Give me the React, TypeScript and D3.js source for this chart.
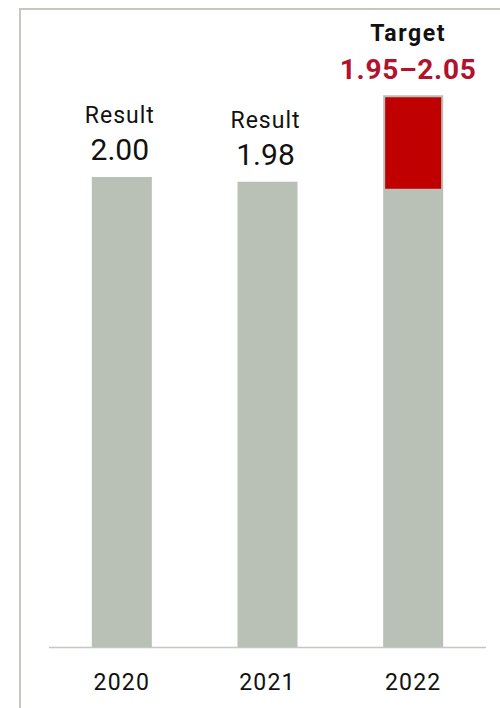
import * as d3 from "d3";

const years = ["2020", "2021", "2022"];
const results = [2.0, 1.98, null];
const resultLabels = ["2.00", "1.98", null];
const targetRange = [1.95, 2.05];
const targetLabel = "1.95–2.05";

const W = 500;
const H = 708;
const margin = { top: 177, right: 14, bottom: 60.5, left: 49 };
const bandPx = 91.5; // the target range is drawn stretched, not to scale

const grey = "#b9c1b6";
const lineGrey = "#c3c8c0";
const font = "Roboto, 'DejaVu Sans', sans-serif";

export default function App() {
  const x = d3
    .scaleBand()
    .domain(years)
    .range([margin.left, W - margin.right])
    .paddingInner(0.588)
    .paddingOuter(0.294);

  const y = d3
    .scaleLinear()
    .domain([0, 2])
    .range([H - margin.bottom, margin.top]);

  const yT = d3
    .scaleLinear()
    .domain(targetRange)
    .range([y(targetRange[0]), y(targetRange[0]) - bandPx]);

  const bw = x.bandwidth();

  return (
    <svg
      width={W}
      height={H}
      style={{ position: "absolute", left: 0, top: 0, fontFamily: font }}
    >
      <rect width={W} height={H} fill="#fff" />
      {/* frame */}
      <path d={`M20,${H}V9H${W}`} fill="none" stroke={lineGrey} strokeWidth={2} />

      {years.map((yr, i) => {
        const cx = x(yr)! + bw / 2;
        const v = results[i];
        if (v != null) {
          const top = y(v);
          return (
            <g key={yr}>
              <rect x={x(yr)} y={top} width={bw} height={y(0) - top} fill={grey} />
              <text x={cx - 2} y={top - 17} textAnchor="middle" fontSize={30} fill="#111">
                {resultLabels[i]}
              </text>
              <text
                x={cx - 2}
                y={top - 54}
                textAnchor="middle"
                fontSize={23}
                letterSpacing={1}
                fill="#111"
              >
                Result
              </text>
            </g>
          );
        }
        const top = yT(targetRange[1]) - 2;
        return (
          <g key={yr}>
            <rect x={x(yr)} y={top} width={bw} height={y(0) - top} fill={grey} />
            <rect
              x={x(yr)! + 2}
              y={yT(targetRange[1])}
              width={bw - 4}
              height={yT(targetRange[0]) - yT(targetRange[1])}
              fill="#c00000"
            />
            <text
              x={cx - 5}
              y={top - 16}
              textAnchor="middle"
              fontSize={28}
              fontWeight="bold"
              letterSpacing={0.7}
              fill="#b3122d"
            >
              {targetLabel}
            </text>
            <text
              x={cx - 5}
              y={top - 54}
              textAnchor="middle"
              fontSize={23}
              fontWeight="bold"
              letterSpacing={1.6}
              fill="#111"
            >
              Target
            </text>
          </g>
        );
      })}

      {/* baseline */}
      <line
        x1={margin.left}
        x2={W - margin.right}
        y1={y(0)}
        y2={y(0)}
        stroke={lineGrey}
        strokeWidth={1.5}
      />
      {years.map((yr) => (
        <text
          key={yr}
          x={x(yr)! + bw / 2}
          y={690}
          textAnchor="middle"
          fontSize={23}
          letterSpacing={1.2}
          fill="#111"
        >
          {yr}
        </text>
      ))}
    </svg>
  );
}
